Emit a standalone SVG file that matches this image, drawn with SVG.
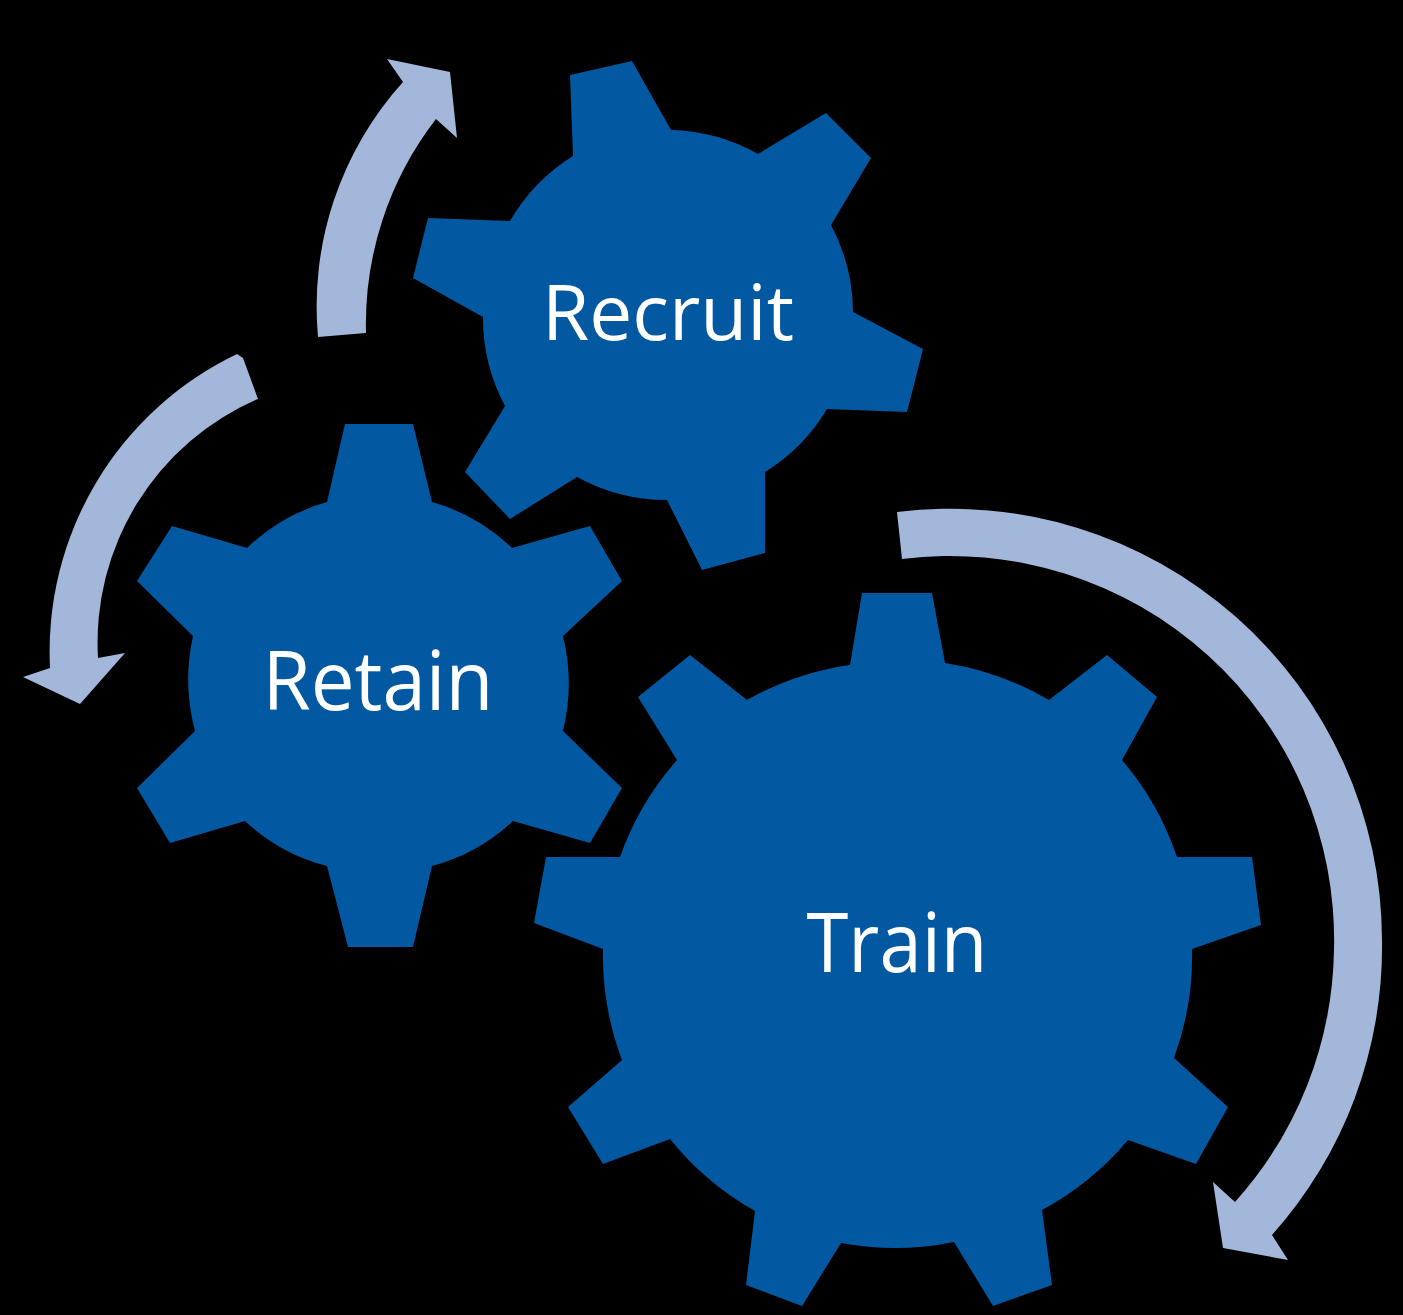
<svg xmlns="http://www.w3.org/2000/svg" width="1403" height="1315" viewBox="0 0 1403 1315">
<style>
.gear{fill:#0359a1}
.arrow{fill:#a3b7da}
.label{font-family:"Open Sans","Noto Sans","Liberation Sans",sans-serif;fill:#fff;text-anchor:middle}
</style>
<rect width="1403" height="1315" fill="#000"/>
<g id="connectors">
<path id="arrow-retain" class="arrow" d="M237 354L243 358L258 399A265 265 0 0 0 98 658L125 653L80 704L23 677L50 668A330 330 0 0 1 237 354Z"/>
<path id="arrow-recruit" class="arrow" d="M318 337A335 335 0 0 1 403 82L387 59L450 72L457 138L436 119A335 335 0 0 0 366 333Z"/>
<path id="arrow-train" class="arrow" d="M897 512A432 432 0 0 1 1382 940A432 432 0 0 1 1272 1235L1288 1260L1223 1248L1213 1182L1235 1202A386 386 0 0 0 1334 950A384 384 0 0 0 902 559Z"/>
</g>
<g id="gear-recruit">
<path class="gear" d="M573 156L570 75L632 61L671 130A186 186 0 0 1 758 154L826 113L871 158L831 225A186 186 0 0 1 853 312L923 349L907 412L827 409A186 186 0 0 1 765 472L765 553L702 570L667 500A186 186 0 0 1 577 477L510 519L465 472L505 406A186 186 0 0 1 483 317L413 278L428 218L510 221A186 186 0 0 1 573 156Z"/>
<text class="label" x="668" y="340" font-size="77" textLength="252" lengthAdjust="spacingAndGlyphs">Recruit</text>
</g>
<g id="gear-retain">
<path class="gear" d="M327 502L345 424L413 424L432 502A190 190 0 0 1 512 548L590 526L622 581L563 636A200 200 0 0 1 563 731L622 788L590 843L513 821A190 190 0 0 1 432 866L413 947L348 947L327 866A190 190 0 0 1 245 821L170 843L137 788L195 731A200 200 0 0 1 193 636L137 581L172 526L247 548A190 190 0 0 1 327 502Z"/>
<text class="label" x="378" y="710" font-size="82" textLength="231" lengthAdjust="spacingAndGlyphs">Retain</text>
</g>
<g id="gear-train">
<path class="gear" d="M850 665L862 593L932 593L945 663A295 295 0 0 1 1049 700L1107 655L1157 697L1122 760A295 295 0 0 1 1177 857L1252 857L1261 925L1192 949A295 295 0 0 1 1174 1058L1228 1107L1196 1164L1128 1140A295 295 0 0 1 1042 1210L1052 1285L993 1306L954 1242A295 295 0 0 1 841 1243L802 1306L746 1285L755 1211A295 295 0 0 1 670 1139L603 1164L568 1107L622 1060A295 295 0 0 1 603 949L534 923L546 857L620 857A295 295 0 0 1 677 760L638 697L690 655L747 700A295 295 0 0 1 850 665Z"/>
<text class="label" x="897" y="972" font-size="82" textLength="181" lengthAdjust="spacingAndGlyphs">Train</text>
</g>
</svg>
